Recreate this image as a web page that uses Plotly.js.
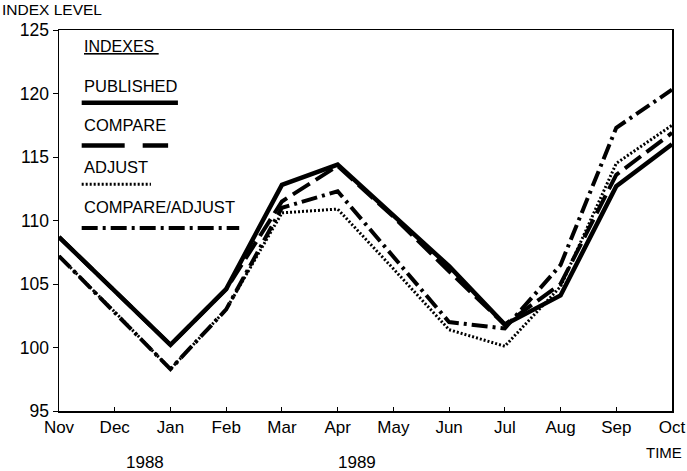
<!DOCTYPE html>
<html>
<head>
<meta charset="utf-8">
<script src="https://cdn.plot.ly/plotly-3.0.1.min.js"></script>
<style>html,body{margin:0;padding:0;background:#fff;}#chart{width:687px;height:471px;}</style>
</head>
<body>
<div id="chart"></div>
<script>
const months = ["Nov","Dec","Jan","Feb","Mar","Apr","May","Jun","Jul","Aug","Sep","Oct"];
const published     = [108.7,104.4,100.2,104.6,112.8,114.4,110.4,106.4,101.8,104.1,112.7,116.0];
const compare       = [108.7,104.4,100.2,104.6,111.5,114.3,110.3,106.0,101.8,105.0,113.6,116.9];
const adjust        = [107.2,102.8, 98.3,103.0,110.6,110.9,106.2,101.4,100.1,104.8,114.5,117.5];
const compareAdjust = [107.2,102.8, 98.3,103.0,111.0,112.3,107.2,102.0,101.5,106.5,117.3,120.3];
const yTicks = [95,100,105,110,115,120,125];
const legendNames = ["PUBLISHED","COMPARE","ADJUST","COMPARE/ADJUST"];

const xIdx = months.map((m,i)=>i);
const F = "Liberation Sans, Arial, sans-serif";

const traces = [
  {x:xIdx, y:adjust, mode:"lines", line:{color:"#000", width:3, dash:"2px,2px"}},
  {x:xIdx, y:compareAdjust, mode:"lines", line:{color:"#000", width:4, dash:"16px,5px,3px,5px"}},
  {x:xIdx, y:compare, mode:"lines", line:{color:"#000", width:4, dash:"20px,7px"}},
  {x:xIdx, y:published, mode:"lines", line:{color:"#000", width:4.5}}
];

const textY = [0.853, 0.751, 0.640, 0.535];
const lineY = [0.809, 0.697, 0.595, 0.480];
const lineX1 = [0.194, 0.178, 0.150, 0.294];
const dashes = ["solid", "43px,18px", "2px,2px", "16px,5px,3px,5px"];
const widths = [4.5, 4.5, 3, 4];

const annotations = [
  {text:"INDEX LEVEL", xref:"paper", yref:"paper", x:-0.096, y:1.054, xanchor:"left", yanchor:"middle", showarrow:false, font:{family:F, size:15.5, color:"#000"}},
  {text:"TIME", xref:"paper", yref:"paper", x:1.02, y:-0.108, xanchor:"right", yanchor:"middle", showarrow:false, font:{family:F, size:15, color:"#000"}},
  {text:"1988", xref:"x", yref:"paper", x:1.54, y:-0.134, xanchor:"center", yanchor:"middle", showarrow:false, font:{family:F, size:17, color:"#000"}},
  {text:"1989", xref:"x", yref:"paper", x:5.35, y:-0.134, xanchor:"center", yanchor:"middle", showarrow:false, font:{family:F, size:17, color:"#000"}},
  {text:"<u>INDEXES </u>", xref:"paper", yref:"paper", x:0.038, y:0.958, xanchor:"left", yanchor:"middle", showarrow:false, font:{family:F, size:16, color:"#000"}}
];
legendNames.forEach((n,i)=>{
  annotations.push({text:n, xref:"paper", yref:"paper", x:0.038, y:textY[i], xanchor:"left", yanchor:"middle", showarrow:false, font:{family:F, size:16.5, color:"#000"}});
});
const shapes = legendNames.map((n,i)=>({
  type:"line", xref:"paper", yref:"paper", x0:0.037, x1:lineX1[i], y0:lineY[i], y1:lineY[i],
  line:{color:"#000", width:widths[i], dash:dashes[i]}
}));

const layout = {
  width:687, height:471,
  margin:{l:59, r:15, t:30, b:60},
  paper_bgcolor:"#fff", plot_bgcolor:"#fff",
  showlegend:false,
  font:{family:F, color:"#000"},
  xaxis:{
    range:[0,11], tickmode:"array", tickvals:xIdx, ticktext:months,
    ticks:"inside", ticklen:4, tickwidth:1, tickcolor:"#000",
    showgrid:false, zeroline:false, showline:true, linecolor:"#000", linewidth:1.5, mirror:true,
    tickfont:{family:F, size:17, color:"#000"}
  },
  yaxis:{
    range:[95,125], tickmode:"array", tickvals:yTicks,
    ticks:"outside", ticklen:5, tickwidth:1, tickcolor:"#000",
    showgrid:false, zeroline:false, showline:true, linecolor:"#000", linewidth:1.5, mirror:true,
    tickfont:{family:F, size:17.5, color:"#000"}
  },
  annotations:annotations,
  shapes:shapes
};
Plotly.newPlot("chart", traces, layout, {staticPlot:true, displayModeBar:false});
</script>
</body>
</html>
